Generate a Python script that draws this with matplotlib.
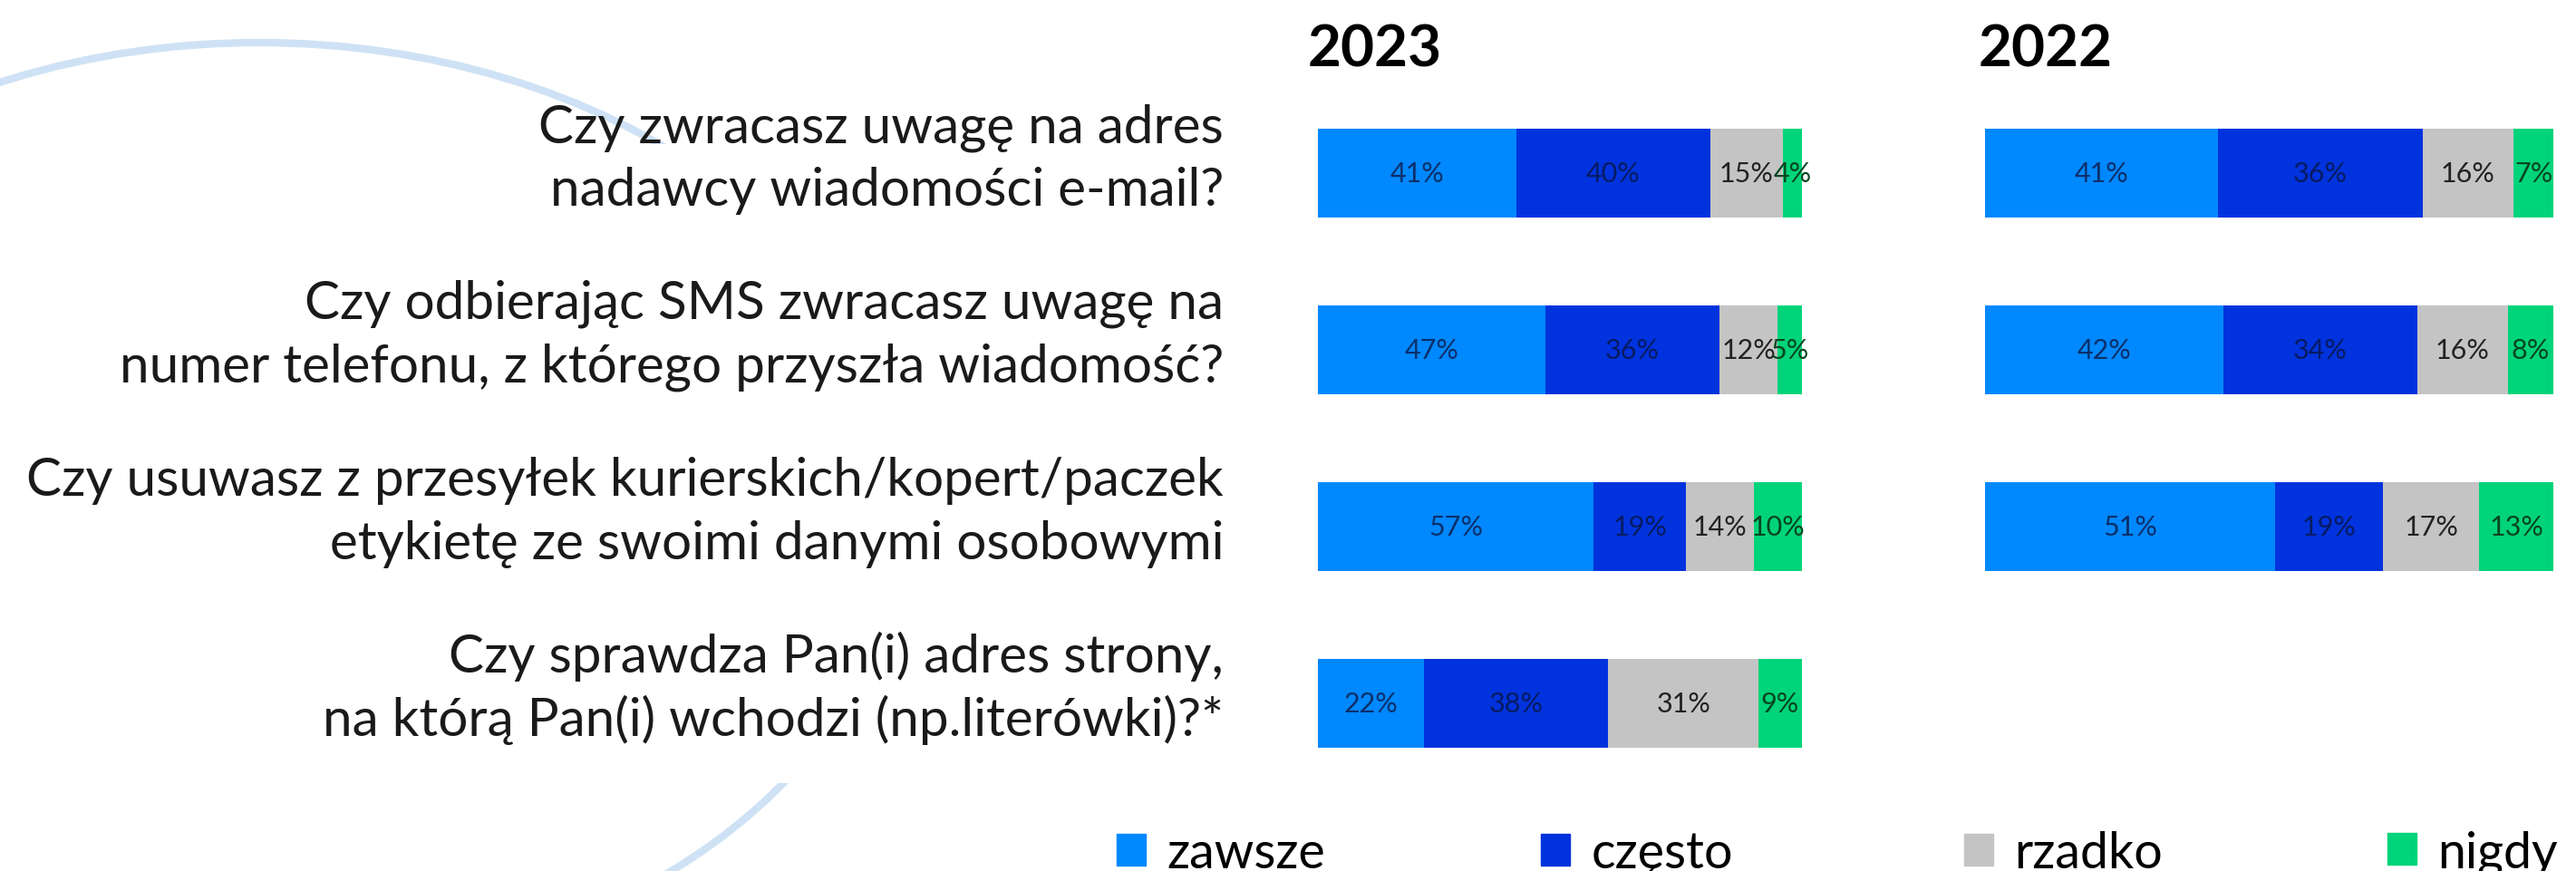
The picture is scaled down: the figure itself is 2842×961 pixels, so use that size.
import matplotlib
matplotlib.use('Agg')
import matplotlib.pyplot as plt
from matplotlib.patches import Patch, Ellipse, Rectangle
import numpy as np

W, H = 2842, 962
DPI = 100

categories = ['zawsze', 'często', 'rzadko', 'nigdy']
questions = [
    'Czy zwracasz uwagę na adres\nnadawcy wiadomości e-mail?',
    'Czy odbierając SMS zwracasz uwagę na\nnumer telefonu, z którego przyszła wiadomość?',
    'Czy usuwasz z przesyłek kurierskich/kopert/paczek\netykietę ze swoimi danymi osobowymi',
    'Czy sprawdza Pan(i) adres strony,\nna którą Pan(i) wchodzi (np.literówki)?*',
]

# 2023 (4 questions)
zawsze_2023 = [41, 47, 57, 22]
czesto_2023 = [40, 36, 19, 38]
rzadko_2023 = [15, 12, 14, 31]
nigdy_2023 = [4, 5, 10, 9]

# 2022 (first 3 questions only)
zawsze_2022 = [41, 42, 51]
czesto_2022 = [36, 34, 19]
rzadko_2022 = [16, 16, 17]
nigdy_2022 = [7, 8, 13]

colors = ['#0088ff', '#0033dd', '#c4c4c4', '#00d47a']
text_colors = ['#0c2f6a', '#071b62', '#222222', '#08451f']

plt.rcParams['font.family'] = ['Lato', 'DejaVu Sans']

fig = plt.figure(figsize=(W / DPI, H / DPI), dpi=DPI)

# background decoration: big light-blue ring, hidden behind the label area
bg = fig.add_axes([0, 0, 1, 1], zorder=0)
bg.set_xlim(0, W)
bg.set_ylim(H, 0)
bg.axis('off')
bg.add_patch(Ellipse((286, 565), 1420, 1034, fill=False, lw=6, ec='#cfe2f5'))
bg.add_patch(Rectangle((720, 160), 660, 705, fc='white', ec='none'))

row_top = 94.5
row_step = 195


def bar_axes(left, width):
    ax = fig.add_axes([left / W, 1 - (row_top + 4 * row_step) / H,
                       width / W, 4 * row_step / H], zorder=2)
    ax.set_xlim(0, 100)
    ax.set_ylim(3.5, -0.5)
    ax.axis('off')
    return ax


def draw_stack(ax, series):
    n = len(series[0])
    y = np.arange(n)
    left = np.zeros(n)
    for vals, col, tcol in zip(series, colors, text_colors):
        bars = ax.barh(y, vals, left=left, height=0.5, color=col, linewidth=0)
        ax.bar_label(bars, labels=[f'{v}%' for v in vals], label_type='center',
                     color=tcol, fontsize=22)
        left += np.array(vals)


ax23 = bar_axes(1454, 534)
draw_stack(ax23, [zawsze_2023, czesto_2023, rzadko_2023, nigdy_2023])
ax22 = bar_axes(2190, 627)
draw_stack(ax22, [zawsze_2022, czesto_2022, rzadko_2022, nigdy_2022])

fig.text(1443 / W, 1 - 74 / H, '2023', fontsize=46, fontweight='bold', va='baseline')
fig.text(2183 / W, 1 - 74 / H, '2022', fontsize=46, fontweight='bold', va='baseline')

# question labels, right aligned, two lines each
for i, q in enumerate(questions):
    center = row_top + row_step * (i + 0.5)
    for j, line in enumerate(q.split('\n')):
        base = center - 35 + 70 * j
        fig.text(1350 / W, 1 - base / H, line, ha='right', va='baseline',
                 fontsize=42, color='#1a1a1a', zorder=3)

# legend: four separate entries spaced evenly along the bottom
legend_x = [1232, 1700, 2167, 2634]
for cat, col, x in zip(categories, colors, legend_x):
    fig.legend(handles=[Patch(color=col)], labels=[cat], loc='lower left',
               bbox_to_anchor=(x / W, -0.006), frameon=False, fontsize=40,
               handlelength=0.58, handleheight=0.6, handletextpad=0.42,
               borderpad=0, borderaxespad=0)

fig.savefig('out.png', dpi=DPI, facecolor='white')
